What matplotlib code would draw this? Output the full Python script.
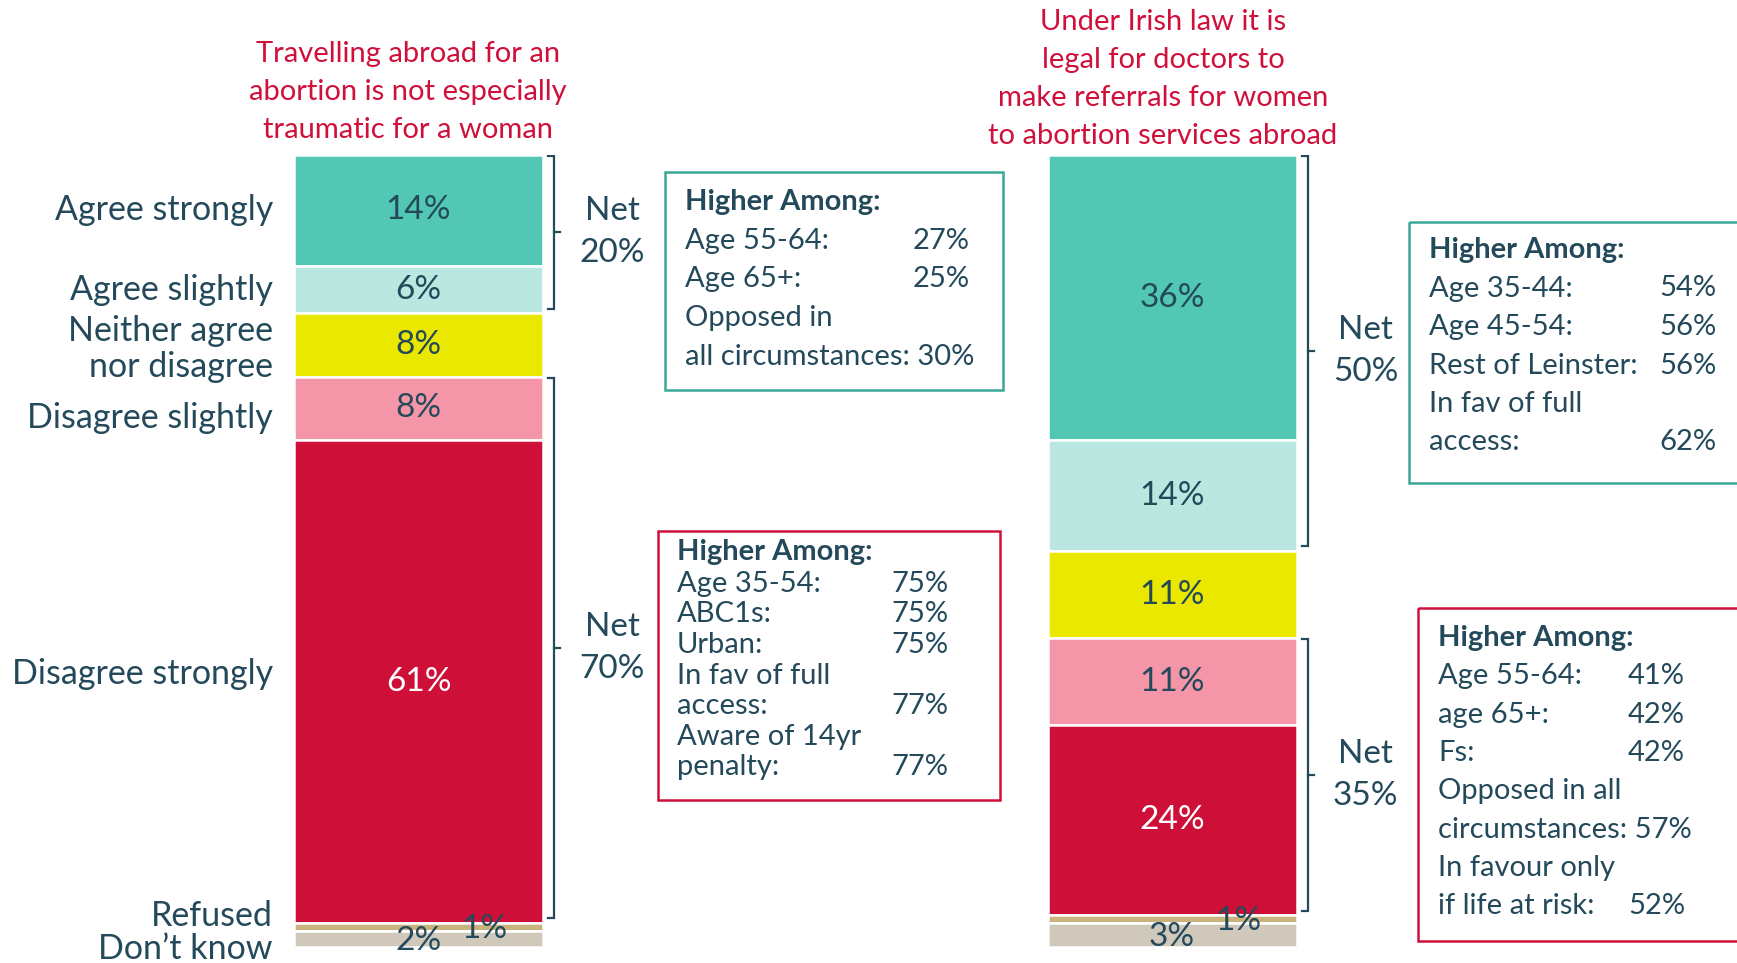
import matplotlib
matplotlib.use("Agg")
import matplotlib.pyplot as plt
from matplotlib.patches import Rectangle

plt.rcParams['font.family'] = ['Lato', 'DejaVu Sans']

# ---------------- data ----------------
categories = ["Agree strongly", "Agree slightly", "Neither agree\nnor disagree",
              "Disagree slightly", "Disagree strongly", "Refused", "Don\u2019t know"]
travel_values = [14, 6, 8, 8, 61, 1, 2]
referral_values = [36, 14, 11, 11, 24, 1, 3]
seg_colors = ["#52C8B4", "#BAE8E1", "#EBE800", "#F596A8", "#CE1039", "#C9B27C", "#D0C8BB"]
label_colors = ["#23495A", "#23495A", "#23495A", "#23495A", "white", "#23495A", "#23495A"]

titles = ["Travelling abroad for an\nabortion is not especially\ntraumatic for a woman",
          "Under Irish law it is\nlegal for doctors to\nmake referrals for women\nto abortion services abroad"]

# (label, first segment index, last segment index)
travel_net = [("Net\n20%", 0, 1), ("Net\n70%", 3, 4)]
referral_net = [("Net\n50%", 0, 1), ("Net\n35%", 3, 4)]

box1 = [("Age 55-64:", "27%"), ("Age 65+:", "25%"), ("Opposed in", ""), ("all circumstances: 30%", "")]
box2 = [("Age 35-54:", "75%"), ("ABC1s:", "75%"), ("Urban:", "75%"), ("In fav of full", ""),
        ("access:", "77%"), ("Aware of 14yr", ""), ("penalty:", "77%")]
box3 = [("Age 35-44:", "54%"), ("Age 45-54:", "56%"), ("Rest of Leinster:", "56%"),
        ("In fav of full", ""), ("access:", "62%")]
box4 = [("Age 55-64:", "41%"), ("age 65+:", "42%"), ("Fs:", "42%"), ("Opposed in all", ""),
        ("circumstances: 57%", ""), ("In favour only", ""), ("if life at risk:", "52%")]

TXT = "#23495A"
RED = "#D0103A"
TEAL_BORDER = "#3AA896"

W, H = 1737, 963
fig = plt.figure(figsize=(W / 100, H / 100), dpi=100)

# bar axes: y 0..100 mapped from pixel 155 (top) to 947 (bottom)
top_px, bot_px = 155, 947
ax = fig.add_axes([0, 1 - bot_px / H, 1, (bot_px - top_px) / H])
c0, c1 = 418.5, 1172.0
unit = c1 - c0
ax.set_xlim(-c0 / unit, (W - c0) / unit)
ax.set_ylim(100, 0)
ax.axis("off")

bar_w = 249 / unit
positions = [0, 1]
series = [travel_values, referral_values]
for pos, vals in zip(positions, series):
    bottom = 0
    for v, col in zip(vals, seg_colors):
        ax.bar(pos, v, bottom=bottom, width=bar_w, color=col, edgecolor="white",
               linewidth=1.8, align="center")
        bottom += v

def cum_bounds(vals):
    starts, s = [], 0
    for v in vals:
        starts.append(s)
        s += v
    return starts

# value labels
for pos, vals in zip(positions, series):
    starts = cum_bounds(vals)
    for i, (v, st) in enumerate(zip(vals, starts)):
        y = st + v / 2
        x = pos
        if i == 5:   # refused (small) label offset right
            x = pos + 0.088
            y = st + 0.75
        elif i == 6:  # don't know
            y = st + v / 2 + 0.2
        ax.text(x, y, f"{v}%", ha="center", va="center", fontsize=24,
                color=label_colors[i])

# category labels (left)
starts = cum_bounds(travel_values)
lab_x = -c0 / unit + 273 / unit
offsets = [0, 0, 0.5, 1.2, -1.0, -1.4, 1.2]
for i, (cat, v, st) in enumerate(zip(categories, travel_values, starts)):
    ax.text(lab_x, st + v / 2 + offsets[i], cat, ha="right", va="center",
            fontsize=24.5, color=TXT, linespacing=1.12)

# brackets + net labels
def bracket(pos, vals, i0, i1, text):
    st = cum_bounds(vals)
    y0 = st[i0] + 0.1
    y1 = st[i1] + vals[i1] - 0.6
    xb = pos + bar_w / 2 + 11 / unit
    ex = 6 / unit
    ax.plot([xb - ex, xb, xb, xb - ex], [y0, y0, y1, y1], color=TXT, lw=1.6,
            solid_joinstyle="miter")
    ym = (y0 + y1) / 2
    ax.plot([xb, xb + ex], [ym, ym], color=TXT, lw=1.6)
    ax.text(xb + 58 / unit, ym, text, ha="center", va="center", fontsize=24,
            color=TXT, linespacing=1.5)

for t, a, b in travel_net:
    bracket(0, travel_values, a, b, t)
for t, a, b in referral_net:
    bracket(1, referral_values, a, b, t)

# overlay axes for titles and boxes (pixel coords)
ov = fig.add_axes([0, 0, 1, 1])
ov.set_xlim(0, W)
ov.set_ylim(H, 0)
ov.axis("off")

ov.text(408, 92, titles[0], ha="center", va="center", fontsize=21, color=RED,
        linespacing=1.58)
ov.text(1163, 79, titles[1], ha="center", va="center", fontsize=21, color=RED,
        linespacing=1.58)

def draw_box(x0, y0, x1, y1, color, tx, ty0, dy, rows, vx, fs=21, first_gap=None):
    ov.add_patch(Rectangle((x0, y0), x1 - x0, y1 - y0, fill=False, edgecolor=color,
                           lw=1.8, clip_on=False))
    ov.text(tx, ty0, "Higher Among:", ha="left", va="center", fontsize=fs,
            fontweight="bold", color=TXT)
    g = dy if first_gap is None else first_gap
    for k, (lab, val) in enumerate(rows):
        y = ty0 + g + dy * k
        ov.text(tx, y, lab, ha="left", va="center", fontsize=fs, color=TXT)
        if val:
            ov.text(vx, y, val, ha="left", va="center", fontsize=fs, color=TXT)

draw_box(665, 172, 1003, 390, TEAL_BORDER, 685, 202, 38.7, box1, 913)
draw_box(658, 531, 1000, 800, RED, 677, 552, 30.5, box2, 891, first_gap=32)
draw_box(1409, 222, 1760, 483, TEAL_BORDER, 1429, 250, 38.5, box3, 1659)
draw_box(1418, 608, 1760, 941, RED, 1438, 638, 38.3, box4, 1628)

fig.savefig("out.png", dpi=100)
